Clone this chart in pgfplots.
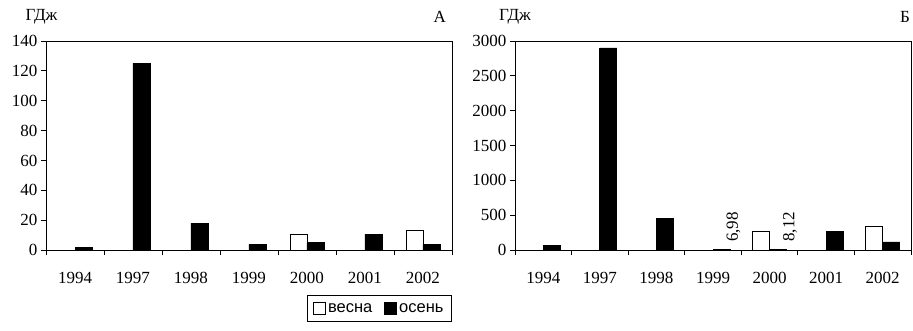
\documentclass[border=0pt]{standalone}
\usepackage{fontspec}
\setmainfont{Liberation Serif}
\newfontfamily\legendfont{Liberation Sans}
\usepackage{pgfplots}
\pgfplotsset{compat=1.18}

\pgfplotsset{
  panel/.style={
    scale only axis, height=209pt, clip=false,
    ybar=0pt, bar width=17pt,
    xmin=-0.5, xmax=6.5, ymin=0,
    xtick={0,...,6},
    xticklabels={1994,1997,1998,1999,2000,2001,2002},
    minor xtick={-0.5,0.5,...,6.5},
    major x tick style={draw=none},
    tick align=outside, tick pos=left,
    major tick length=5pt, minor tick length=5pt,
    axis line style={line width=0.9pt},
    every tick/.style={black, line width=0.8pt},
    /pgf/number format/assume math mode=true,
    /pgf/number format/1000 sep={},
    ticklabel style={font=\fontsize{17}{20}\selectfont},
    xticklabel style={yshift=-14pt},
    legend image code/.code={\draw[#1, line width=0.8pt] (0pt,-6pt) rectangle (12pt,6pt);},
  },
  spring/.style={draw=black, fill=white, line width=0.8pt},
  autumn/.style={draw=black, fill=black, line width=0.8pt},
}

\begin{document}
\begin{tikzpicture}[x=1pt,y=1pt]
\useasboundingbox (0,0) rectangle (913,330);

% Panel A
\begin{axis}[panel, width=406pt, at={(46pt,80pt)}, anchor=south west,
    ymax=140, ytick={0,20,...,140},
    legend columns=2,
    legend style={at={(axis description cs:1,-0.215)}, anchor=north east,
      draw=black, line width=0.9pt, inner xsep=6pt, inner ysep=6pt,
      font=\legendfont\fontsize{16.5}{18}\selectfont,
      /tikz/every even column/.append style={column sep=10pt}},
  ]
  \addplot[spring] coordinates {(4,10.5) (6,13.4)};
  \addplot[autumn] coordinates {(0,2) (1,125) (2,18) (3,4) (4,5) (5,10.7) (6,4)};
  \legend{весна, осень}
  \node[font=\fontsize{17}{20}\selectfont] at (axis description cs:-0.011,1.115) {ГДж};
  \node[font=\fontsize{17}{20}\selectfont] at (axis description cs:0.97,1.115) {А};
\end{axis}

% Panel B
\begin{axis}[panel, width=396pt, at={(515pt,80pt)}, anchor=south west,
    ymax=3000, ytick={0,500,...,3000},
  ]
  \addplot[spring] coordinates {(4,260) (6,335)};
  \addplot[autumn,
    point meta=explicit symbolic,
    nodes near coords,
    every node near coord/.append style={xshift=12pt, yshift=4pt, rotate=90, anchor=west,
      font=\fontsize{17}{20}\selectfont, text=black},
  ] coordinates {(0,70) [] (1,2900) [] (2,450) [] (3,6.98) [{6,98}] (4,8.12) [{8,12}] (5,260) [] (6,115) []};
  \node[font=\fontsize{17}{20}\selectfont] at (axis description cs:0.0,1.115) {ГДж};
  \node[font=\fontsize{17}{20}\selectfont] at (axis description cs:0.985,1.115) {Б};
\end{axis}
\end{tikzpicture}
\end{document}
